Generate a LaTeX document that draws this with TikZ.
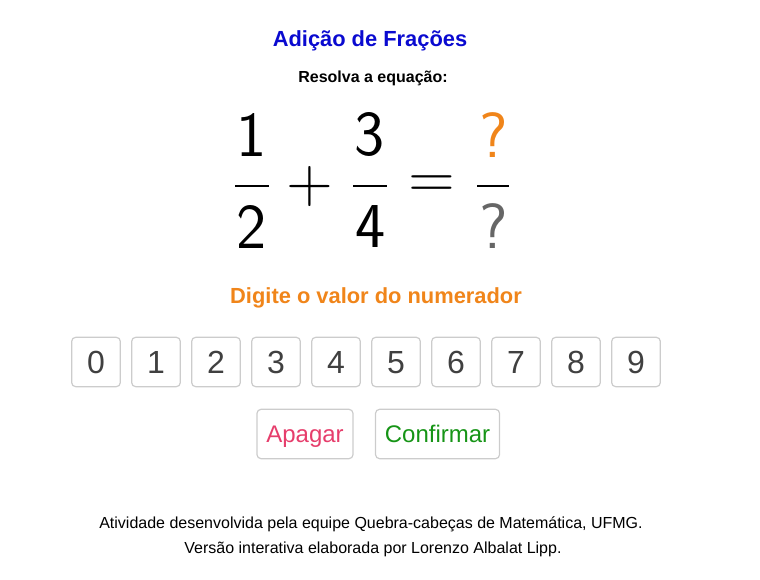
\documentclass[tikz,border=0pt]{standalone}
\usepackage{fontspec}
\setmainfont{Liberation Sans}
\usetikzlibrary{positioning}
\definecolor{titleblue}{HTML}{0A0AD0}
\definecolor{hintorange}{HTML}{F0851A}
\definecolor{keygray}{HTML}{404040}
\definecolor{keyline}{HTML}{CCCCCC}
\definecolor{qgray}{HTML}{666666}
\definecolor{clearpink}{HTML}{E63E6C}
\definecolor{okgreen}{HTML}{169416}
\tikzset{
  keybox/.style={rectangle, draw=keyline, line width=0.9pt, rounded corners=3pt, minimum width=36.5pt, minimum height=37pt, inner sep=0pt, text=keygray, font=\fontsize{24}{28}\selectfont, text height=17.2pt, text depth=0pt},
  actbox/.style={rectangle, draw=keyline, line width=0.9pt, rounded corners=3pt, minimum height=37pt, inner sep=0pt, font=\fontsize{18}{22}\selectfont, text height=12.9pt, text depth=0pt},
  fracnum/.style={inner sep=0pt, font=\sffamily\fontsize{48}{56}\selectfont},
  fracbar/.style={rectangle, fill=black, minimum height=2.2pt, inner sep=0pt},
  fracop/.style={inner sep=0pt, font=\sffamily\fontsize{48}{56}\selectfont}
}
\begin{document}
\begin{tikzpicture}[x=0.75pt,y=-0.75pt]
  \useasboundingbox (0,0) rectangle (760,580);
  \node(title) [anchor=base, text=titleblue, font=\bfseries\fontsize{16.4}{20}\selectfont] at (370,47) {Adição de Frações};
  \node(task) [anchor=base, font=\bfseries\fontsize{12}{15}\selectfont] at (373,83) {Resolva a equação:};
  % the sum
  \node(numA) [fracnum] at (252,135) {1};
  \node(barA) [fracbar, minimum width=25pt] at (252,186) {};
  \node(denA) [fracnum] at (252,227) {2};
  \node(plus) [fracop] at (310,187) {+};
  \node(numB) [fracnum] at (370,135) {3};
  \node(barB) [fracbar, minimum width=25pt] at (370,186) {};
  \node(denB) [fracnum] at (371,227) {4};
  \node(equals) [fracop] at (432,187) {=};
  \node(numC) [fracnum, text=hintorange] at (494,135) {?};
  \node(barC) [fracbar, minimum width=24pt] at (493,186) {};
  \node(denC) [fracnum, text=qgray] at (494,226) {?};
  \node(hint) [anchor=base, text=hintorange, font=\bfseries\fontsize{16.4}{20}\selectfont] at (376,304) {Digite o valor do numerador};
  % keypad
  \foreach \d in {0,...,9}
    \node(key\d) [keybox] at (96+60*\d,362) {\d};
  \node(clear) [actbox, minimum width=72pt, text=clearpink] at (305,434) {Apagar};
  \node(confirm) [actbox, minimum width=93pt, text=okgreen, right=16pt of clear] {Confirmar};
  \node(credit) [anchor=base, font=\fontsize{12}{15}\selectfont] at (371,528) {Atividade desenvolvida pela equipe Quebra-cabeças de Matemática, UFMG.};
  \node(author) [anchor=base, font=\fontsize{12}{15}\selectfont] at (373,553) {Versão interativa elaborada por Lorenzo Albalat Lipp.};
\end{tikzpicture}
\end{document}
